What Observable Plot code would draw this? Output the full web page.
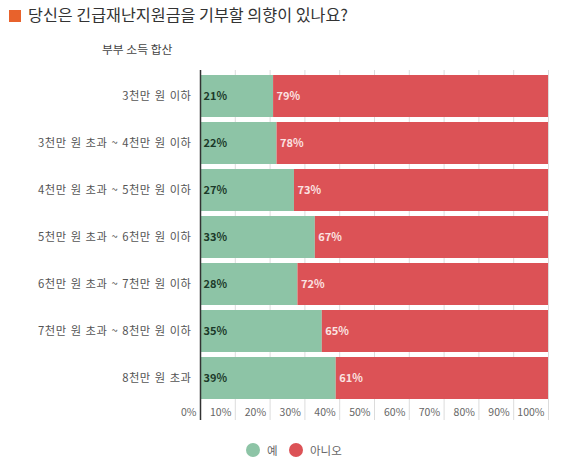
<!DOCTYPE html>
<html>
<head>
<meta charset="utf-8">
<script src="https://cdn.jsdelivr.net/npm/d3@7"></script>
<script src="https://cdn.jsdelivr.net/npm/@observablehq/plot@0.6"></script>
<style>
  html, body { margin: 0; padding: 0; background: #fff; }
  body { width: 580px; height: 468px; position: relative; overflow: hidden;
         font-family: "Noto Sans CJK KR", "Noto Sans", sans-serif; }
  #title { position: absolute; left: 9px; top: 1px; font-size: 16.2px; color: #333; line-height: 26px; }
  #title .sq { display: inline-block; width: 12px; height: 12px; background: #e8622c; margin-right: 7px; vertical-align: -1px; }
  #subtitle { position: absolute; left: 102px; top: 40px; font-size: 11.8px; color: #444; line-height: 18px; }
  #chart { position: absolute; left: 0; top: 60px; }
  #chart g[aria-label="y-axis tick label"] text { letter-spacing: 0.5px; word-spacing: 1px; }
  #legend { position: absolute; top: 440px; left: 0; width: 580px; height: 20px; font-size: 11.5px; color: #666; }
  #legend .item { position: absolute; top: 0; display: flex; align-items: center; height: 20px; }
  #legend .dot { width: 14px; height: 14px; border-radius: 50%; margin-right: 7px; }
</style>
</head>
<body>
<div id="title"><span class="sq"></span>당신은 긴급재난지원금을 기부할 의향이 있나요?</div>
<div id="subtitle">부부 소득 합산</div>
<div id="chart"></div>
<div id="legend"></div>
<script>
const categories = [
  "3천만 원 이하",
  "3천만 원 초과 ~ 4천만 원 이하",
  "4천만 원 초과 ~ 5천만 원 이하",
  "5천만 원 초과 ~ 6천만 원 이하",
  "6천만 원 초과 ~ 7천만 원 이하",
  "7천만 원 초과 ~ 8천만 원 이하",
  "8천만 원 초과"
];
const yesValues = [21, 22, 27, 33, 28, 35, 39];
const noValues = [79, 78, 73, 67, 72, 65, 61];
const answers = ["예", "아니오"];
const colors = ["#8dc4a6", "#dc5256"];
const xTicks = [0, 10, 20, 30, 40, 50, 60, 70, 80, 90, 100];

const table = [];
categories.forEach((c, i) => {
  table.push({cat: c, answer: answers[0], value: yesValues[i], start: 0});
  table.push({cat: c, answer: answers[1], value: noValues[i], start: yesValues[i]});
});
const yesRows = table.filter(d => d.answer === answers[0]);
const noRows = table.filter(d => d.answer === answers[1]);

const chart = Plot.plot({
  width: 580,
  height: 370,
  marginLeft: 200,
  marginRight: 32,
  marginTop: 10,
  marginBottom: 26,
  style: {fontFamily: "'Noto Sans CJK KR', 'Noto Sans', sans-serif", background: "#fff"},
  x: {domain: [0, 100], ticks: xTicks, tickFormat: d => d + "%", label: null},
  y: {domain: categories, padding: 0.1, label: null},
  color: {domain: answers, range: colors},
  marks: [
    Plot.gridX(xTicks, {stroke: "#dcdcdc", strokeOpacity: 1}),
    Plot.axisX(xTicks, {tickSize: 16, text: null, stroke: "#dcdcdc", strokeOpacity: 1, label: null}),
    Plot.barX(table, {x1: "start", x2: d => d.start + d.value, y: "cat", fill: "answer"}),
    Plot.ruleX([0], {stroke: "#333", strokeWidth: 1.5}),
    Plot.axisX([0], {tickSize: 16, text: null, stroke: "#333", strokeWidth: 1.5, label: null}),
    Plot.axisX(xTicks, {tickSize: 0, tickPadding: 4, tickFormat: d => d + "%", textAnchor: "end", dx: -4, fontSize: 10.5, fill: "#666", label: null}),
    Plot.axisY({tickSize: 0, tickPadding: 9, fontSize: 11.3, fill: "#555", label: null}),
    Plot.text(yesRows, {x: "start", y: "cat", text: d => d.value + "%", textAnchor: "start", dx: 3, fill: "#1c3a2a", fontWeight: "bold", fontSize: 11}),
    Plot.text(noRows, {x: "start", y: "cat", text: d => d.value + "%", textAnchor: "start", dx: 3, fill: "#fbe2e2", fontWeight: "bold", fontSize: 11})
  ]
});
document.getElementById("chart").appendChild(chart);

const legend = document.getElementById("legend");
const lefts = [246, 289];
answers.forEach((a, i) => {
  const item = document.createElement("div");
  item.className = "item";
  item.style.left = lefts[i] + "px";
  const dot = document.createElement("span");
  dot.className = "dot";
  dot.style.background = colors[i];
  const lab = document.createElement("span");
  lab.textContent = a;
  item.appendChild(dot);
  item.appendChild(lab);
  legend.appendChild(item);
});
</script>
</body>
</html>
